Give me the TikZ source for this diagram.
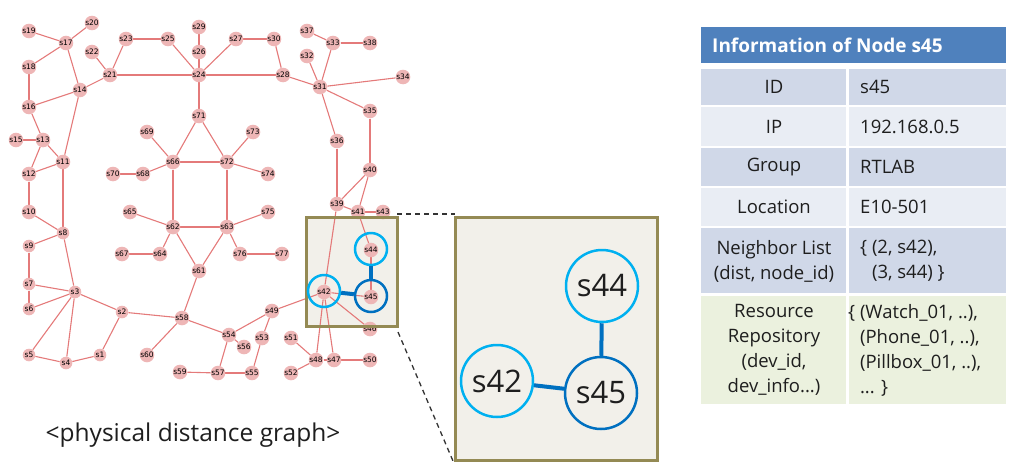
\documentclass[tikz,border=0pt]{standalone}
\usepackage{fontspec}
\setmainfont{Open Sans}
\newfontfamily\gfont{DejaVu Sans}
\usetikzlibrary{backgrounds}
\definecolor{edgec}{RGB}{228,122,122}
\definecolor{nodec}{RGB}{238,182,182}
\definecolor{boxfill}{RGB}{242,240,234}
\definecolor{olivec}{RGB}{148,138,84}
\definecolor{lblue}{RGB}{0,176,240}
\definecolor{dblue}{RGB}{0,112,192}
\definecolor{hdr}{RGB}{79,129,189}
\definecolor{rowd}{RGB}{208,216,232}
\definecolor{rowl}{RGB}{233,237,244}
\definecolor{rowg}{RGB}{235,241,222}
\definecolor{txt}{RGB}{30,30,30}
\begin{document}
\begin{tikzpicture}[x=1pt,y=-1pt,
  gnode/.style={circle,fill=nodec,minimum size=12.6pt,inner sep=0pt,font=\gfont\fontsize{7.5}{8}\selectfont,text=black},
  gedge/.style={draw=edgec,line width=1.1pt},
  hlring/.style={circle,draw=lblue,line width=2.5pt,minimum size=32pt,inner sep=0pt},
  hlmain/.style={hlring,draw=dblue},
  bconn/.style={draw=dblue,line width=4pt},
  zring/.style={circle,draw=lblue,line width=2.5pt,minimum size=72pt,inner sep=0pt,font=\fontsize{31}{33}\selectfont,text=txt},
  zmain/.style={zring,draw=dblue},
  framebox/.style={draw=olivec,line width=3pt},
  dashln/.style={draw=black!80,line width=1.3pt,dash pattern=on 5pt off 4pt},
  ttxt/.style={font=\fontsize{18.5}{25}\selectfont,text=txt,inner sep=0pt},
  htxt/.style={font=\bfseries\fontsize{19}{22}\selectfont,text=white,inner sep=0pt,anchor=west}
]
\useasboundingbox (0,0) rectangle (1024,472);
% graph nodes
\node[gnode] (s1) at (100,355) {s1};
\node[gnode] (s2) at (122,312) {s2};
\node[gnode] (s3) at (75,292) {s3};
\node[gnode] (s4) at (66,363) {s4};
\node[gnode] (s5) at (29,355) {s5};
\node[gnode] (s6) at (29,309) {s6};
\node[gnode] (s7) at (29,284) {s7};
\node[gnode] (s8) at (63,233) {s8};
\node[gnode] (s9) at (29,246) {s9};
\node[gnode] (s10) at (29,212) {s10};
\node[gnode] (s11) at (63,162) {s11};
\node[gnode] (s12) at (29,174) {s12};
\node[gnode] (s13) at (43,140) {s13};
\node[gnode] (s14) at (80,90) {s14};
\node[gnode] (s15) at (16,140) {s15};
\node[gnode] (s16) at (29,107) {s16};
\node[gnode] (s17) at (66,43) {s17};
\node[gnode] (s18) at (29,67) {s18};
\node[gnode] (s19) at (29,31) {s19};
\node[gnode] (s20) at (92,23) {s20};
\node[gnode] (s21) at (110,75) {s21};
\node[gnode] (s22) at (92,52) {s22};
\node[gnode] (s23) at (126,39) {s23};
\node[gnode] (s24) at (199,75) {s24};
\node[gnode] (s25) at (168,39) {s25};
\node[gnode] (s26) at (199,52) {s26};
\node[gnode] (s27) at (236,39) {s27};
\node[gnode] (s28) at (283,75) {s28};
\node[gnode] (s29) at (199,27) {s29};
\node[gnode] (s30) at (274,39) {s30};
\node[gnode] (s31) at (320,87) {s31};
\node[gnode] (s32) at (307,56) {s32};
\node[gnode] (s33) at (333,43) {s33};
\node[gnode] (s34) at (403,77) {s34};
\node[gnode] (s35) at (370,111) {s35};
\node[gnode] (s36) at (337,141) {s36};
\node[gnode] (s37) at (307,31) {s37};
\node[gnode] (s38) at (370,43) {s38};
\node[gnode] (s39) at (337,204) {s39};
\node[gnode] (s40) at (370,170) {s40};
\node[gnode] (s41) at (358,212) {s41};
\node[gnode] (s42) at (324,292) {s42};
\node[gnode] (s43) at (383,212) {s43};
\node[gnode] (s44) at (371,250) {s44};
\node[gnode] (s45) at (371,297) {s45};
\node[gnode] (s46) at (370,329) {s46};
\node[gnode] (s47) at (334,360) {s47};
\node[gnode] (s48) at (316,360) {s48};
\node[gnode] (s49) at (272,311) {s49};
\node[gnode] (s50) at (370,360) {s50};
\node[gnode] (s51) at (291,338) {s51};
\node[gnode] (s52) at (291,373) {s52};
\node[gnode] (s53) at (262,338) {s53};
\node[gnode] (s54) at (229,335) {s54};
\node[gnode] (s55) at (252,373) {s55};
\node[gnode] (s56) at (244,347) {s56};
\node[gnode] (s57) at (218,373) {s57};
\node[gnode] (s58) at (182,318) {s58};
\node[gnode] (s59) at (180,372) {s59};
\node[gnode] (s60) at (147,355) {s60};
\node[gnode] (s61) at (199,271) {s61};
\node[gnode] (s62) at (173,227) {s62};
\node[gnode] (s63) at (227,227) {s63};
\node[gnode] (s64) at (160,254) {s64};
\node[gnode] (s65) at (130,212) {s65};
\node[gnode] (s66) at (173,162) {s66};
\node[gnode] (s67) at (122,254) {s67};
\node[gnode] (s68) at (143,174) {s68};
\node[gnode] (s69) at (147,132) {s69};
\node[gnode] (s70) at (113,174) {s70};
\node[gnode] (s71) at (199,116) {s71};
\node[gnode] (s72) at (227,162) {s72};
\node[gnode] (s73) at (253,132) {s73};
\node[gnode] (s74) at (268,174) {s74};
\node[gnode] (s75) at (268,212) {s75};
\node[gnode] (s76) at (240,254) {s76};
\node[gnode] (s77) at (282,254) {s77};
% highlight box corners
\coordinate (hbtl) at (306,217);
\coordinate (hbbr) at (397,326);
\coordinate (zbtl) at (455,217);
\coordinate (zbbr) at (657,460);
\begin{pgfonlayer}{background}
  \fill[boxfill] (hbtl) rectangle (hbbr);
  \foreach \a/\b in {s19/s17,s20/s17,s17/s18,s17/s14,s18/s16,s16/s14,s14/s21,s22/s21,s21/s23,s21/s24,s23/s25,s25/s24,s29/s26,s26/s24,s24/s71,s16/s13,s15/s13,s13/s12,s13/s11,s12/s11,s14/s11,s12/s10,s11/s8,s69/s66,s70/s68,s68/s66,s66/s71,s66/s72,s66/s62,s71/s72,s24/s27,s27/s30,s30/s28,s24/s28,s28/s31,s37/s33,s33/s38,s33/s31,s32/s31,s31/s34,s31/s35,s31/s36,s35/s40,s36/s39,s40/s39,s40/s41,s72/s73,s72/s74,s72/s63,s10/s8,s9/s8,s8/s3,s9/s7,s7/s3,s7/s6,s6/s3,s3/s5,s3/s4,s3/s2,s5/s4,s4/s1,s1/s2,s2/s58,s58/s60,s58/s61,s61/s62,s61/s63,s62/s65,s62/s64,s64/s67,s62/s63,s58/s54,s59/s57,s39/s41,s41/s43,s41/s44,s39/s42,s42/s45,s44/s45,s42/s46,s42/s48,s42/s47,s42/s49,s63/s75,s63/s76,s76/s77,s49/s54,s49/s53,s54/s56,s54/s57,s53/s55,s57/s55,s51/s48,s52/s48,s48/s47,s47/s50}
    \draw[gedge] (\a) -- (\b);
\end{pgfonlayer}
\draw[framebox] (hbtl) rectangle (hbbr);
% highlight rings
\node[hlring] (h44) at (371,249) {};
\node[hlring] (h42) at (324,291) {};
\node[hlmain] (h45) at (371,296) {};
\draw[bconn] (h44) -- (h45);
\draw[bconn] (h42) -- (h45);
% zoom box
\fill[boxfill] (zbtl) rectangle (zbbr);
\draw[framebox] (zbtl) rectangle (zbbr);
\node[zring] (z44) at (602,286) {s44};
\node[zring] (z42) at (497,381) {s42};
\node[zmain] (z45) at (601,393) {s45};
\draw[bconn] (z44) -- (z45);
\draw[bconn] (z42) -- (z45);
% dashed connectors
\coordinate (d1a) at (397,214);
\coordinate (d1b) at (455,214);
\coordinate (d2a) at (398,332);
\coordinate (d2b) at (453,461);
\draw[dashln] (d1a) -- (d1b);
\draw[dashln] (d2a) -- (d2b);
% caption
\node[font=\fontsize{24.5}{28}\selectfont,text=txt] (cap) at (193,435) {<physical distance graph>};
% table
\fill[hdr] (701,27) rectangle (1006,63);
\node[htxt] (th) at (712,45) {Information of Node s45};
\fill[rowd] (701,69) rectangle (846,105);   \fill[rowd] (849,69) rectangle (1006,105);
\fill[rowl] (701,107) rectangle (846,146);  \fill[rowl] (849,107) rectangle (1006,146);
\fill[rowd] (701,148) rectangle (846,186);  \fill[rowd] (849,148) rectangle (1006,186);
\fill[rowl] (701,188) rectangle (846,226);  \fill[rowl] (849,188) rectangle (1006,226);
\fill[rowd] (701,228) rectangle (846,293);  \fill[rowd] (849,228) rectangle (1006,293);
\fill[rowg] (701,296) rectangle (846,404);  \fill[rowg] (849,296) rectangle (1006,404);
\node[ttxt] (k1) at (774,87) {ID};
\node[ttxt,anchor=west] (v1) at (860,87) {s45};
\node[ttxt] (k2) at (774,127) {IP};
\node[ttxt,anchor=west] (v2) at (860,127) {192.168.0.5};
\node[ttxt] (k3) at (774,167) {Group};
\node[ttxt,anchor=west] (v3) at (860,167) {RTLAB};
\node[ttxt] (k4) at (774,207) {Location};
\node[ttxt,anchor=west] (v4) at (860,207) {E10-501};
\node[ttxt,align=center] (k5) at (774,261) {Neighbor List\\(dist, node\_id)};
\node[ttxt,align=left,anchor=west] (v5) at (860,261) {\{ (2, s42),\\\phantom{\{ }(3, s44) \}};
\node[ttxt,align=center] (k6) at (774,350) {Resource\\Repository\\(dev\_id,\\dev\_info...)};
\node[ttxt,align=left,anchor=west] (v6) at (848,350) {\{ (Watch\_01, ..),\\\phantom{\{ }(Phone\_01, ..),\\\phantom{\{ }(Pillbox\_01, ..),\\\phantom{\{ }... \}};
\end{tikzpicture}
\end{document}
